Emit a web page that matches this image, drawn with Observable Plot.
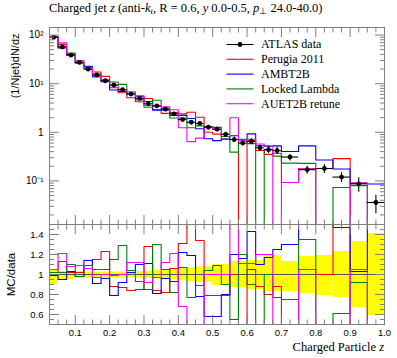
<!DOCTYPE html>
<html><head><meta charset="utf-8">
<script src="https://cdn.jsdelivr.net/npm/d3@7"></script>
<script src="https://cdn.jsdelivr.net/npm/@observablehq/plot@0.6"></script>
<style>
html,body{margin:0;padding:0;background:#fff;}
#chart{position:relative;width:397px;height:358px;overflow:hidden;background:#fff;}
#title{position:absolute;left:49px;top:0px;font-family:"Liberation Serif",serif;font-size:12.5px;white-space:nowrap;line-height:16px;color:#000;}
#title sub{font-size:8.5px;vertical-align:-2px;line-height:0;}
#main,#ratio{position:absolute;left:0;}
#main{top:0px;}
#ratio{top:221px;}
</style></head><body>
<div id="chart"><div id="main"></div><div id="ratio"></div>
<div id="title">Charged jet <i>z</i> (anti-<i>k</i><sub><i>t</i></sub>, R = 0.6, <i>y</i> 0.0-0.5, <i>p</i><sub>⊥</sub> 24.0-40.0)</div></div>
<script>
// ---- data ----
const binEdges = [0.025,0.05,0.075,0.1,0.125,0.15,0.175,0.2,0.225,0.25,0.275,0.3,0.325,0.35,0.375,0.4,0.425,0.45,0.475,0.5,0.525,0.55,0.575,0.6,0.625,0.65,0.675,0.7,0.75,0.8,0.85,0.9,0.95,1.0];
const atlasData = [90,57,38.6,27.3,19.9,15.1,11.5,9.4,7.5,6.1,5.0,3.86,3.51,2.99,2.40,1.83,1.61,1.52,1.27,1.16,0.91,0.71,0.60,0.65,0.48,0.44,0.42,0.31,0.17,0.18,0.12,0.087,0.036];
const relErrUp = [0.04,0.03,0.03,0.03,0.025,0.025,0.025,0.025,0.025,0.025,0.03,0.035,0.04,0.045,0.05,0.06,0.065,0.075,0.075,0.1,0.1,0.13,0.13,0.14,0.14,0.19,0.19,0.13,0.18,0.19,0.23,0.33,0.41];
const relErrDown = [0.10,0.06,0.05,0.04,0.035,0.035,0.035,0.035,0.035,0.035,0.04,0.04,0.045,0.05,0.055,0.06,0.07,0.08,0.08,0.11,0.11,0.13,0.13,0.15,0.15,0.17,0.17,0.17,0.19,0.21,0.23,0.33,0.41];
const ratioPerugia = [1.02,1.13,1.02,1.02,1.06,1.15,1.23,0.88,0.87,0.84,0.85,1.28,0.84,0.82,1.06,1.31,1.6,1.34,0.79,0.79,0.79,1.0,0,1.05,0.88,0.8,0.88,0.3,1.05,1.0,2.4,0,0];
const ratioAMBT2B = [0.99,0.95,1.03,0.98,1.14,0.91,0.96,0.79,0.92,1.02,1.10,1.11,0.81,0.96,0.93,1.22,1.19,0.78,0.58,0.58,0.8,1.2,1.16,1.43,1.1,1.17,1.25,1.3,3.1,1.5,1.47,1.03,2.4];
const ratioLocked = [1.02,1.02,1.10,0.98,1.09,1.05,1.05,1.15,1.29,1.04,0.93,0.85,1.30,1.05,0.82,1.07,0.77,0.89,1.04,1.09,0.9,0.55,1.2,0.9,0,1.0,0.77,0.75,1.35,0,0.61,0.92,0];
const ratioAUET2B = [1.05,1.21,1.08,1.09,1.06,0.97,1.0,0.99,1.0,1.12,1.12,0.92,0.97,1.12,1.21,0.68,0.4,0.5,1.0,1.0,1.0,2.8,1.11,1.11,1.2,1.2,0,0.3,1.05,0,0,1.05,0];
const seriesNames = ["Perugia 2011","AMBT2B","Locked Lambda","AUET2B retune"];
const seriesColors = ["#ff0000","#0000ff","#008000","#ff00ff"];
const xMajorTicks = [0.1,0.2,0.3,0.4,0.5,0.6,0.7,0.8,0.9,1.0];
const yMainMajor = [0.1,1,10,100];
const yMainLabels = ["10⁻¹","1","10¹","10²"];
const yRatioMajor = [0.6,0.8,1.0,1.2,1.4];

// ---- derived rows ----
const ratios = [ratioPerugia, ratioAMBT2B, ratioLocked, ratioAUET2B];
const bins = atlasData.map((v,i)=>({x1:binEdges[i], x2:binEdges[i+1], xc:(binEdges[i]+binEdges[i+1])/2, v,
  lo:v*(1-relErrDown[i]), hi:v*(1+relErrUp[i]), rlo:1-relErrDown[i], rhi:1+relErrUp[i]}));
function steps(vals){const pts=[];vals.forEach((v,i)=>{pts.push({x:binEdges[i],y:v},{x:binEdges[i+1],y:v});});return pts;}
const mainSteps = ratios.map(r=>steps(r.map((q,i)=>q>0?q*atlasData[i]:1e-5)));
const ratioSteps = ratios.map(r=>steps(r));

const xMinor = d3.range(1,41).map(i=>i*0.025).filter(t=>!xMajorTicks.some(m=>Math.abs(m-t)<1e-9));
const yMainMinor = [];
[0.01,0.1,1,10].forEach(d=>{for(let k=2;k<=9;k++){const t=k*d; if(t>=0.0127&&t<=143) yMainMinor.push(t);}});
const yRatioMinor = d3.range(10,31).map(i=>i*0.05).filter(t=>!yRatioMajor.some(m=>Math.abs(m-t)<1e-9));

const frameColor = "#808080";
function tickMarks(minorX, majorX, minorY, majorY, anchorsX){
  return [
    ...anchorsX.map(a=>Plot.axisX({anchor:a, ticks:majorX, tickSize:-9, fill:"none", stroke:frameColor, label:null})),
    ...anchorsX.map(a=>Plot.axisX({anchor:a, ticks:minorX, tickSize:-4.5, fill:"none", stroke:frameColor, label:null})),
    ...["left","right"].map(a=>Plot.axisY({anchor:a, ticks:majorY, tickSize:-10, fill:"none", stroke:frameColor, label:null})),
    ...["left","right"].map(a=>Plot.axisY({anchor:a, ticks:minorY, tickSize:-5, fill:"none", stroke:frameColor, label:null}))
  ];
}

const mainPlot = Plot.plot({
  width:397, height:226, marginTop:27, marginBottom:2, marginLeft:49, marginRight:13,
  style:{background:"transparent", fontFamily:"Liberation Sans", fontSize:"9.5px", color:"#000", overflow:"visible"},
  x:{domain:[0.025,1.0]},
  y:{type:"log", domain:[0.0127,143]},
  marks:[
    ...mainSteps.map((s,i)=>Plot.line(s,{x:"x",y:"y",stroke:seriesColors[i],strokeWidth:1.1,clip:true})),
    Plot.ruleX(bins,{x:"xc",y1:"lo",y2:"hi",stroke:"#000",strokeWidth:1.1,clip:true}),
    Plot.ruleY(bins,{y:"v",x1:"x1",x2:"x2",stroke:"#000",strokeWidth:1.1,clip:true}),
    Plot.dot(bins,{x:"xc",y:"v",r:2.4,fill:"#000",stroke:"none"}),
    Plot.frame({stroke:frameColor}),
    ...tickMarks(xMinor, xMajorTicks, yMainMinor, yMainMajor, ["top","bottom"]),
    Plot.axisY({anchor:"left", ticks:yMainMajor, tickSize:0, tickPadding:6, stroke:"none", label:null,
      tickFormat:d=>yMainLabels[yMainMajor.indexOf(d)], fontSize:10}),
    Plot.text(["(1/Njet)dN/dz"],{frameAnchor:"top-left", dx:-38, dy:6, rotate:-90, textAnchor:"end", fontSize:11, fill:"#000"})
  ]
});
document.getElementById("main").appendChild(mainPlot);

// legend
{
  const svg = d3.select(mainPlot);
  const g = svg.append("g").attr("font-family","Liberation Serif").attr("font-size",12).attr("fill","#000").attr("text-anchor","start");
  const names = ["ATLAS data", ...seriesNames];
  const cols = ["#000", ...seriesColors];
  names.forEach((n,i)=>{
    const y = 44.5 + i*14.8;
    g.append("line").attr("x1",226.5).attr("x2",253.5).attr("y1",y).attr("y2",y).attr("stroke",cols[i]).attr("stroke-width",1.1);
    if(i===0) g.append("circle").attr("cx",240).attr("cy",y).attr("r",2.4).attr("fill","#000");
    g.append("text").attr("x",261).attr("y",y).attr("dy","0.33em").attr("text-anchor","start").text(n);
  });
}

const ratioPlot = Plot.plot({
  width:397, height:137, marginTop:3, marginBottom:34, marginLeft:49, marginRight:13,
  style:{background:"transparent", fontFamily:"Liberation Sans", fontSize:"9.5px", color:"#000", overflow:"visible"},
  x:{domain:[0.025,1.0]},
  y:{domain:[0.5,1.5]},
  marks:[
    Plot.rect(bins,{x1:"x1",x2:"x2",y1:"rlo",y2:"rhi",fill:"#ffff00",clip:true}),
    Plot.ruleY([1],{stroke:"#555",strokeWidth:1}),
    ...ratioSteps.map((s,i)=>Plot.line(s,{x:"x",y:"y",stroke:seriesColors[i],strokeWidth:1.1,clip:true})),
    Plot.frame({stroke:frameColor}),
    ...tickMarks(xMinor, xMajorTicks, yRatioMinor, yRatioMajor, ["top","bottom"]),
    Plot.axisY({anchor:"left", ticks:yRatioMajor, tickSize:0, tickPadding:6, stroke:"none", label:null,
      tickFormat:d=>Math.abs(d-1)<1e-9?"1":d.toFixed(1), fontSize:9.5}),
    Plot.axisX({anchor:"bottom", ticks:xMajorTicks, tickSize:0, tickPadding:5, stroke:"none", label:null,
      tickFormat:d=>d.toFixed(1), fontSize:9.5}),
    Plot.text(["MC/data"],{frameAnchor:"left", dx:-38, rotate:-90, textAnchor:"middle", fontSize:11.5, fill:"#000"})
  ]
});
document.getElementById("ratio").appendChild(ratioPlot);
{
  const svg = d3.select(ratioPlot);
  const t = svg.append("text").attr("x",384).attr("y",130).attr("text-anchor","end")
    .attr("font-family","Liberation Serif").attr("font-size",12.5).attr("fill","#000");
  t.append("tspan").text("Charged Particle ");
  t.append("tspan").attr("font-style","italic").text("z");
}
</script>
</body></html>
